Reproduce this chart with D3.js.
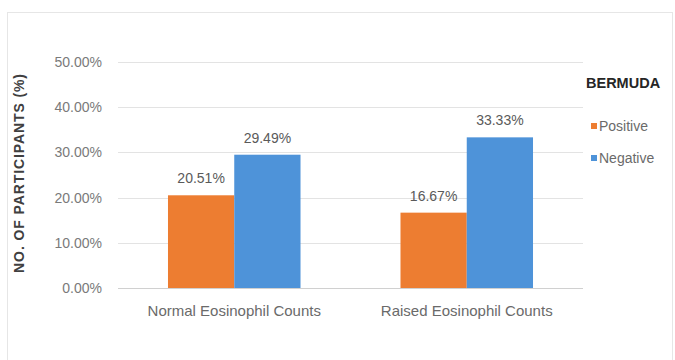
<!DOCTYPE html>
<html>
<head>
<meta charset="utf-8">
<script src="https://cdn.jsdelivr.net/npm/d3@7"></script>
<style>
  html, body { margin: 0; padding: 0; background: #fff; }
  svg { display: block; font-family: "Liberation Sans", Arial, sans-serif; }
</style>
</head>
<body>
<svg id="chart" width="675" height="360"></svg>
<script>
// Eosinophil count categories and the share of participants per Bermuda result
const categories = ["Normal Eosinophil Counts", "Raised Eosinophil Counts"];
const seriesNames = ["Positive", "Negative"];
const positiveValues = [20.51, 16.67];
const negativeValues = [29.49, 33.33];
const yTicks = [0, 10, 20, 30, 40, 50];
const yTitle = "NO. OF PARTICIPANTS (%)";
const legendTitle = "BERMUDA";

const colors = { Positive: "#ED7D31", Negative: "#4E93D9" };

const svg = d3.select("#chart");
const W = 675, H = 360;
const margin = { left: 118, right: 92, top: 62, bottom: 72 };
const plotW = W - margin.left - margin.right;
const plotH = H - margin.top - margin.bottom;

// faint outer frame of the chart area
svg.append("rect")
  .attr("x", 7.5).attr("y", 12.5)
  .attr("width", 665).attr("height", 360)
  .attr("fill", "none").attr("stroke", "#e6e6e6");

const g = svg.append("g").attr("transform", `translate(${margin.left},${margin.top})`);

const x0 = d3.scaleBand().domain(categories).range([0, plotW]).paddingInner(0.43).paddingOuter(0.215);
const x1 = d3.scaleBand().domain(seriesNames).range([0, x0.bandwidth()]).padding(0);
const y = d3.scaleLinear().domain([0, 50]).range([plotH, 0]);

// gridlines
g.append("g").selectAll("line").data(yTicks).join("line")
  .attr("x1", 0).attr("x2", plotW)
  .attr("y1", d => Math.round(y(d)) + 0.5).attr("y2", d => Math.round(y(d)) + 0.5)
  .attr("stroke", d => d === 0 ? "#d0d0d0" : "#e3e3e3").attr("stroke-width", 1);

// y axis labels
const yAxis = d3.axisLeft(y).tickValues(yTicks).tickFormat(d => d.toFixed(2) + "%").tickSize(0).tickPadding(16);
g.append("g").call(yAxis)
  .call(a => a.select(".domain").remove())
  .selectAll("text")
  .attr("fill", "#7a7a7a").attr("font-size", 14);

// x axis labels
const xAxis = d3.axisBottom(x0).tickSize(0).tickPadding(17);
g.append("g").attr("transform", `translate(0,${plotH})`).call(xAxis)
  .call(a => a.select(".domain").remove())
  .selectAll("text")
  .attr("fill", "#6a6a6a").attr("font-size", 15);

const rows = categories.map((c, i) => ({
  category: c,
  values: [
    { series: "Positive", value: positiveValues[i] },
    { series: "Negative", value: negativeValues[i] }
  ]
}));

const groups = g.selectAll(".grp").data(rows).join("g")
  .attr("class", "grp")
  .attr("transform", d => `translate(${x0(d.category)},0)`);

groups.selectAll("rect").data(d => d.values).join("rect")
  .attr("x", d => x1(d.series))
  .attr("y", d => y(d.value))
  .attr("width", x1.bandwidth())
  .attr("height", d => plotH - y(d.value))
  .attr("fill", d => colors[d.series]);

groups.selectAll("text.lbl").data(d => d.values).join("text")
  .attr("class", "lbl")
  .attr("x", d => x1(d.series) + x1.bandwidth() / 2)
  .attr("y", d => y(d.value) - 12)
  .attr("text-anchor", "middle")
  .attr("fill", "#5a5a5a").attr("font-size", 14)
  .text(d => d.value.toFixed(2) + "%");

// y axis title
svg.append("text")
  .attr("transform", `translate(24,173) rotate(-90)`)
  .attr("text-anchor", "middle")
  .attr("font-weight", "bold").attr("font-size", 14).attr("letter-spacing", 0.9).attr("fill", "#404040")
  .text(yTitle);

// legend
const legend = svg.append("g").attr("transform", "translate(586,0)");
legend.append("text").attr("x", 0).attr("y", 88)
  .attr("font-weight", "bold").attr("font-size", 14.5).attr("fill", "#262626")
  .text(legendTitle);
const items = legend.selectAll(".item").data(seriesNames).join("g")
  .attr("class", "item")
  .attr("transform", (d, i) => `translate(0,${131 + i * 32})`);
items.append("rect").attr("x", 5).attr("y", -8).attr("width", 6).attr("height", 6)
  .attr("fill", d => colors[d]);
items.append("text").attr("x", 13).attr("y", 0)
  .attr("font-size", 14).attr("fill", "#6a6a6a")
  .text(d => d);
</script>
</body>
</html>
